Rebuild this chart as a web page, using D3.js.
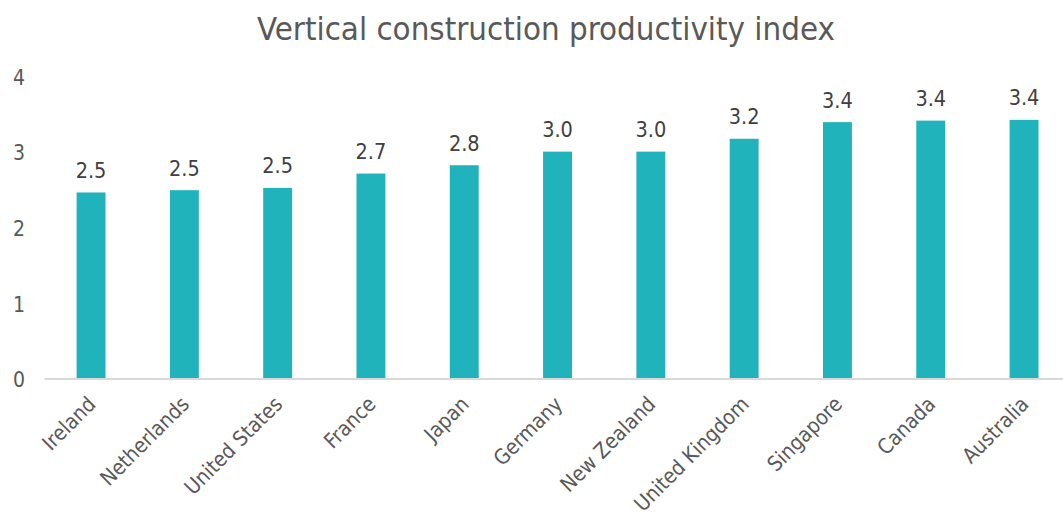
<!DOCTYPE html>
<html>
<head>
<meta charset="utf-8">
<script src="https://cdn.jsdelivr.net/npm/d3@7"></script>
<style>
  html, body { margin: 0; padding: 0; background: #fff; }
  svg { display: block; }
  text { font-family: "DejaVu Sans Condensed", "DejaVu Sans", sans-serif; font-stretch: condensed; }
</style>
</head>
<body>
<svg id="chart" width="1063" height="515"></svg>
<script>
// Vertical construction productivity index by country
const countries = ["Ireland", "Netherlands", "United States", "France", "Japan", "Germany",
                   "New Zealand", "United Kingdom", "Singapore", "Canada", "Australia"];
const indexValues = [2.46, 2.49, 2.52, 2.71, 2.82, 3.0, 3.0, 3.17, 3.39, 3.41, 3.42];
const yTicks = [0, 1, 2, 3, 4];
const chartTitle = "Vertical construction productivity index";

const W = 1063, H = 515;
const svg = d3.select("#chart");

const x = d3.scaleBand()
  .domain(countries)
  .range([44.4, 1070.7])
  .paddingInner(0.69)
  .paddingOuter(0.345);

const y = d3.scaleLinear()
  .domain([0, 4])
  .range([378.5, 76]);

// Title, fitted to its target width
const title = svg.append("text")
  .attr("x", 546)
  .attr("y", 40)
  .attr("text-anchor", "middle")
  .attr("fill", "#595959")
  .attr("font-size", 34)
  .text(chartTitle);
const tw = title.node().getComputedTextLength();
title.attr("font-size", 34 * 578 / tw);

// Y axis labels (no line, no ticks)
const yAxis = d3.axisLeft(y).tickValues(yTicks).tickSize(0).tickPadding(0)
  .tickFormat(d3.format("d"));
const gy = svg.append("g").attr("transform", "translate(25,1.5)").call(yAxis);
gy.select(".domain").remove();
gy.selectAll("text")
  .attr("font-size", 21)
  .attr("fill", "#595959")
  .attr("font-family", null);

// Bars
svg.append("g").selectAll("rect")
  .data(countries)
  .join("rect")
  .attr("x", d => x(d))
  .attr("width", x.bandwidth())
  .attr("y", (d, i) => y(indexValues[i]))
  .attr("height", (d, i) => y(0) - y(indexValues[i]))
  .attr("fill", "#20B3BC");

// Baseline
svg.append("line")
  .attr("x1", 44.5).attr("x2", W)
  .attr("y1", y(0) + 0.5).attr("y2", y(0) + 0.5)
  .attr("stroke", "#D9D9D9")
  .attr("stroke-width", 2);

// Value labels
svg.append("g").selectAll("text")
  .data(countries)
  .join("text")
  .attr("x", d => x(d) + x.bandwidth() / 2)
  .attr("y", (d, i) => y(indexValues[i]) - 14.5)
  .attr("text-anchor", "middle")
  .attr("font-size", 21.5)
  .attr("fill", "#404040")
  .text((d, i) => d3.format(".1f")(indexValues[i]));

// Category labels, rotated
const xAxis = d3.axisBottom(x).tickSize(0).tickPadding(0);
const gx = svg.append("g").attr("transform", `translate(0,${y(0)})`).call(xAxis);
gx.select(".domain").remove();
gx.selectAll("text")
  .attr("font-family", null)
  .attr("font-size", 21)
  .attr("fill", "#595959")
  .attr("text-anchor", "end")
  .attr("dy", 0)
  .attr("y", 0)
  .attr("transform", "translate(6,27) rotate(-45)");
</script>
</body>
</html>
